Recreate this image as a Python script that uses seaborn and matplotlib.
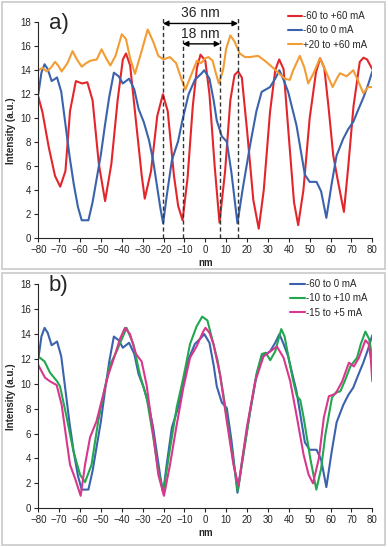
import matplotlib
matplotlib.use('Agg')
import matplotlib.pyplot as plt
import seaborn as sns
from matplotlib.patches import Rectangle

sns.set_style('ticks')
plt.rcParams['font.family'] = ['Liberation Sans', 'DejaVu Sans']

# panel a) -60 to +60 mA
red_x = [-80, -78, -75, -72, -69.5, -67, -64.8, -62, -59, -56.5, -54, -51, -48, -45, -42, -39.5, -38, -36,
         -33, -30.5, -29, -26, -23, -20.3, -18, -15, -13, -10.9, -8.5, -6, -4, -2.3, 0, 2, 4.5, 6.8, 9.5, 12,
         14, 15.7, 17.5, 20, 23, 25.6, 28, 31, 33.5, 35.4, 37.5, 40, 42.5, 44.5, 47, 50, 53, 55, 57, 59, 61.3,
         63.5, 66.4, 68.5, 71, 74, 75.8, 77.5, 80]
red_y = [11.8, 10.5, 7.6, 5.2, 4.3, 5.6, 10.6, 13.1, 12.9, 13.0, 11.5, 6.2, 3.1, 6.2, 11.5, 14.9, 15.4, 14.4,
         9.4, 5.3, 3.3, 5.6, 10.2, 12.0, 10.6, 5.2, 2.7, 1.5, 5.0, 11.0, 14.2, 15.3, 14.8, 12.0, 6.0, 1.3, 5.6,
         11.5, 13.6, 13.9, 13.4, 9.0, 3.2, 0.8, 4.0, 10.5, 14.0, 14.9, 14.1, 8.5, 3.0, 1.1, 4.0, 10.0, 13.8,
         15.0, 14.2, 11.0, 6.9, 4.8, 2.2, 6.0, 11.0, 14.7, 15.05, 14.9, 14.1]

# -60 to 0 mA (same curve in both panels)
blue_x = [-80, -78.5, -77, -75.5, -73.6, -71, -69, -67, -65, -63, -61, -59.2, -56, -54, -52, -50, -48, -46,
          -43.8, -41.5, -39.5, -36.5, -34, -32, -29.5, -27, -25, -23, -21.5, -20.2, -18.5, -16, -13, -11, -8,
          -5, -2, -0.5, 2, 4, 5.5, 7.9, 10.3, 12.5, 15.4, 18, 21.5, 24.5, 27, 31, 33.5, 35.5, 37.5, 39.7,
          43.7, 47.7, 50, 53.3, 55.5, 58, 60.5, 62.9, 66.1, 68.5, 70.9, 73, 75.7, 78, 80]
blue_y = [12.0, 13.8, 14.5, 14.1, 13.1, 13.4, 12.2, 9.5, 6.8, 4.5, 2.6, 1.5, 1.5, 3.0, 5.0, 7.0, 9.5, 11.8,
          13.8, 13.5, 12.9, 13.3, 12.4, 10.8, 9.7, 8.2, 6.5, 4.2, 2.5, 1.25, 3.5, 6.5, 8.1, 9.8, 12.0, 13.2,
          13.7, 14.0, 13.3, 11.5, 9.8, 8.5, 8.05, 5.5, 1.25, 4.2, 7.8, 10.6, 12.2, 12.6, 13.3, 14.0, 13.2,
          12.2, 9.4, 5.3, 4.7, 4.7, 3.9, 1.7, 4.5, 6.9, 8.3, 9.1, 9.7, 10.6, 11.7, 12.8, 13.9]

orange_x = [-80, -78, -76, -74, -72, -70.5, -68.8, -66, -63.6, -61.5, -59.2, -57, -55, -52, -49.7, -47.5,
            -45.5, -43, -40, -38, -36, -33.7, -31, -27.6, -25, -22.5, -20, -17, -14, -11.5, -9.5, -7, -4,
            -2, 0, 1.5, 3.5, 5, 6.5, 8.5, 10, 12, 14, 16.5, 19, 21.3, 25.3, 28.5, 32.5, 35.5, 38.1, 40.5,
            42.1, 45.3, 47.5, 49.3, 52, 54.9, 57.5, 61, 63, 64.5, 67.7, 70.9, 73, 75.7, 78, 80]
orange_y = [14.0, 14.2, 13.9, 14.2, 14.7, 14.4, 13.9, 14.6, 15.6, 14.9, 14.3, 14.6, 14.8, 14.9, 15.75, 15.0,
            14.4, 15.2, 17.0, 16.6, 15.0, 13.7, 15.3, 17.4, 16.4, 15.2, 14.9, 15.1, 14.6, 13.3, 12.4, 13.5,
            14.8, 14.6, 15.0, 15.1, 14.8, 13.8, 12.9, 14.0, 15.8, 16.9, 16.4, 15.4, 15.1, 15.1, 15.2, 14.8,
            14.2, 13.7, 13.3, 13.2, 14.0, 15.2, 14.2, 12.9, 13.8, 15.0, 14.0, 12.6, 13.3, 13.75, 13.5, 14.0,
            13.2, 12.1, 12.6, 12.6]

# panel b) -10 to +10 mA
green_x = [-80, -77, -74.4, -71, -69.6, -66.4, -63.2, -60, -57.6, -54.5, -51.3, -48.1, -45.7, -42.5, -40,
           -37.7, -34.5, -31.3, -28.1, -24.9, -22.5, -20.1, -16.9, -13.7, -10.5, -7.3, -4.2, -1.5, 1, 3.9,
           6, 8.7, 12.7, 15.6, 18, 21.5, 24.5, 27.1, 29, 31.1, 33.5, 36.4, 38, 39.9, 42, 43.9, 45.5, 47.1,
           50.3, 53.2, 55.5, 57.5, 60.7, 62.5, 64.7, 67, 69.5, 72.7, 74.5, 76.7, 78.5, 80]
green_y = [12.2, 11.8, 10.9, 10.2, 9.8, 7.3, 4.6, 2.7, 2.1, 3.5, 7.0, 9.7, 11.5, 12.6, 13.6, 14.5, 13.2, 10.7,
           8.9, 5.7, 3.0, 1.3, 4.8, 8.1, 10.5, 13.2, 14.6, 15.4, 15.1, 13.2, 11.8, 9.1, 4.6, 1.4, 4.0, 7.8,
           10.8, 12.4, 12.5, 11.9, 12.6, 14.4, 13.8, 12.1, 10.3, 9.0, 8.7, 7.3, 4.0, 1.5, 3.2, 5.9, 8.9, 9.3,
           9.4, 10.3, 11.4, 12.1, 13.2, 14.2, 13.6, 12.1]

# -15 to +5 mA
pink_x = [-80, -76.8, -74.4, -71.2, -68.8, -66.4, -64.8, -62.4, -59.7, -57.6, -55.2, -52.1, -49.7, -46.5,
          -43.3, -40.9, -38.5, -36.1, -33.2, -30.5, -28.1, -24.9, -22.5, -19.8, -16.9, -13.7, -10.5, -7.3,
          -4.2, -1, 0.1, 2, 3.9, 7.1, 10.3, 13.5, 15.9, 19.9, 23.9, 27.9, 31.1, 34.3, 37.5, 40.7, 43.9, 47.1,
          49.5, 51.6, 54.4, 56.8, 59.2, 62.4, 65.6, 68.8, 71.2, 73.6, 76.7, 78.3, 79.3, 80]
pink_y = [11.5, 10.5, 10.2, 9.9, 8.3, 5.4, 3.5, 2.4, 1.0, 3.5, 5.7, 7.0, 8.6, 10.7, 12.3, 13.6, 14.5, 14.0,
          12.4, 11.8, 9.9, 5.9, 2.7, 1.0, 3.5, 6.7, 9.7, 12.1, 13.0, 14.2, 14.5, 14.1, 13.2, 10.7, 7.0, 3.5,
          1.8, 6.5, 10.2, 12.2, 12.6, 13.0, 12.1, 10.2, 7.3, 4.3, 2.7, 2.0, 4.0, 7.3, 9.0, 9.2, 10.2, 11.7,
          11.4, 12.1, 13.5, 13.2, 12.0, 10.2]

x_ticks = list(range(-80, 81, 10))
y_ticks = list(range(0, 19, 2))

red, blue, orange = '#e3262b', '#3a63ac', '#f39c33'
green, pink = '#22a74f', '#d8378d'

fig = plt.figure(figsize=(3.88, 5.47), dpi=100)
for y0, h in [(2, 267), (273, 272)]:
    fig.patches.append(Rectangle((2 / 388, 1 - (y0 + h) / 547), 383 / 388, h / 547,
                                 transform=fig.transFigure, fill=False, ec='#c9c9c9', lw=1.2))

ax1 = fig.add_axes([0.0987, 0.5644, 0.8608, 0.3949])
ax2 = fig.add_axes([0.0987, 0.0708, 0.8608, 0.4095])

sns.lineplot(x=red_x, y=red_y, sort=False, color=red, lw=1.5, label='-60 to +60 mA', ax=ax1)
sns.lineplot(x=blue_x, y=blue_y, sort=False, color=blue, lw=1.5, label='-60 to 0 mA', ax=ax1)
sns.lineplot(x=orange_x, y=orange_y, sort=False, color=orange, lw=1.5, label='+20 to +60 mA', ax=ax1)

sns.lineplot(x=blue_x, y=blue_y, sort=False, color=blue, lw=1.5, label='-60 to 0 mA', ax=ax2)
sns.lineplot(x=green_x, y=green_y, sort=False, color=green, lw=1.5, label='-10 to +10 mA', ax=ax2)
sns.lineplot(x=pink_x, y=pink_y, sort=False, color=pink, lw=1.5, label='-15 to +5 mA', ax=ax2)

for ax, tag, anchor in [(ax1, 'a)', 1.075), (ax2, 'b)', 1.045)]:
    ax.set_xlim(-80, 80)
    ax.set_ylim(0, 18)
    ax.set_xticks(x_ticks)
    ax.set_yticks(y_ticks)
    ax.tick_params(labelsize=7, length=3, width=0.8, pad=2)
    ax.set_xlabel('nm', fontsize=7, fontweight='bold', labelpad=2)
    ax.set_ylabel('Intensity (a.u.)', fontsize=7, fontweight='bold', labelpad=3)
    sns.despine(ax=ax)
    ax.text(-75, 17.9, tag, fontsize=16, va='center', ha='left')
    ax.legend(loc='upper right', bbox_to_anchor=(1.0, anchor), frameon=False, fontsize=7,
              handlelength=1.5, handletextpad=0.1, labelspacing=0.45, borderpad=0)

# spacing markers in panel a)
for xv, top in [(-20.3, 18.5), (15.7, 18.5), (-10.8, 16.5), (7.2, 16.5)]:
    ax1.plot([xv, xv], [0, top], ls=(0, (3, 2)), color='#333333', lw=1, clip_on=False)
ax1.annotate('', xy=(-20.3, 17.9), xytext=(15.7, 17.9), annotation_clip=False,
             arrowprops=dict(arrowstyle='<|-|>', color='black', lw=1, mutation_scale=8,
                             shrinkA=0, shrinkB=0))
ax1.annotate('', xy=(-10.8, 16.2), xytext=(7.2, 16.2), annotation_clip=False,
             arrowprops=dict(arrowstyle='<|-|>', color='black', lw=1, mutation_scale=8,
                             shrinkA=0, shrinkB=0))
ax1.text(-2.5, 18.75, '36 nm', fontsize=10, ha='center', va='center')
ax1.text(-2.5, 17.05, '18 nm', fontsize=10, ha='center', va='center')

fig.savefig('out.png', dpi=100)
